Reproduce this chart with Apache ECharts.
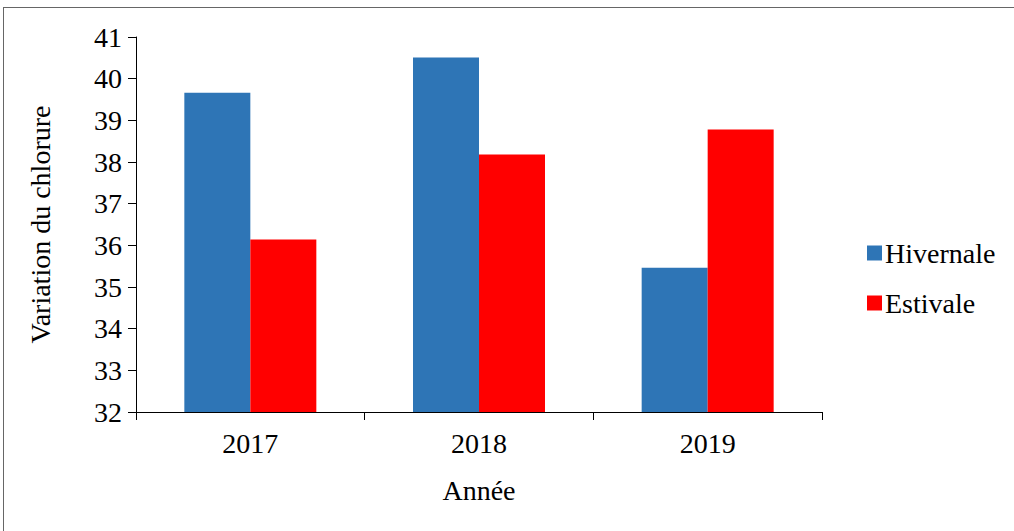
<!DOCTYPE html>
<html>
<head>
<meta charset="utf-8">
<script src="https://cdn.jsdelivr.net/npm/echarts@6/dist/echarts.min.js"></script>
<style>
  html, body { margin: 0; padding: 0; background: #fff; }
  #frame { position: absolute; left: 3px; top: 7px; width: 1020px; height: 530px; border: 1px solid #666; box-sizing: border-box; }
  #chart { width: 1014px; height: 531px; position: absolute; left: 0; top: 0; }
</style>
</head>
<body>
<div id="frame"></div>
<div id="chart"></div>
<script>
  // data
  var years = ['2017', '2018', '2019'];
  var hivernale = [39.66, 40.51, 35.46];
  var estivale = [36.14, 38.18, 38.78];
  var seriesNames = ['Hivernale', 'Estivale'];

  var font = '"Liberation Serif", "Times New Roman", serif';
  var chart = echarts.init(document.getElementById('chart'), null, { renderer: 'svg' });

  chart.setOption({
    animation: false,
    textStyle: { fontFamily: font, color: '#000' },
    grid: { left: 136, right: 192, top: 37, bottom: 119 },
    legend: {
      orient: 'vertical',
      left: 862,
      top: 234,
      itemWidth: 15,
      itemHeight: 15,
      itemGap: 22,
      icon: 'rect',
      textStyle: { fontFamily: font, fontSize: 28, color: '#000', padding: [0, 0, 0, -2] },
      data: seriesNames
    },
    xAxis: {
      type: 'category',
      data: years,
      name: 'Année',
      nameLocation: 'middle',
      nameGap: 64,
      nameTextStyle: { fontFamily: font, fontSize: 28, color: '#000' },
      axisLine: { lineStyle: { color: '#000', width: 1 } },
      axisTick: { show: true, length: 8, lineStyle: { color: '#000' } },
      axisLabel: { fontFamily: font, fontSize: 28, color: '#000', margin: 17 }
    },
    yAxis: {
      type: 'value',
      min: 32,
      max: 41,
      interval: 1,
      name: 'Variation du chlorure',
      nameLocation: 'middle',
      nameGap: 82,
      nameTextStyle: { fontFamily: font, fontSize: 28, color: '#000' },
      axisLine: { show: true, lineStyle: { color: '#000', width: 1 } },
      axisTick: { show: true, length: 8, lineStyle: { color: '#000' } },
      axisLabel: { fontFamily: font, fontSize: 28, color: '#000', margin: 14 },
      splitLine: { show: false }
    },
    series: [
      {
        name: seriesNames[0],
        type: 'bar',
        data: hivernale,
        barWidth: 66,
        barGap: '0%',
        itemStyle: { color: '#2E75B6' }
      },
      {
        name: seriesNames[1],
        type: 'bar',
        data: estivale,
        barWidth: 66,
        barGap: '0%',
        itemStyle: { color: '#FF0000' }
      }
    ]
  });
</script>
</body>
</html>
